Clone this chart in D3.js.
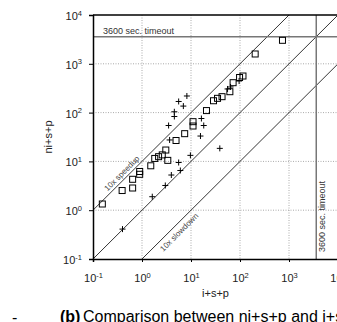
<!DOCTYPE html>
<html>
<head>
<meta charset="utf-8">
<script src="https://cdn.jsdelivr.net/npm/d3@7"></script>
<style>
  body { margin: 0; background: #fff; }
  svg text { font-family: "Liberation Sans", Arial, sans-serif; }
</style>
</head>
<body>
<script>
// Data ////////////////////////////////////////////////////////////////////

// "+" markers (i+s+p time, ni+s+p time)
const plusX = [0.40, 1.62, 2.99, 3.97, 6.06, 5.60, 9.72, 38.7, 3.66, 3.49,
  4.57, 4.57, 8.24, 5.60, 6.98, 15.6, 18.2, 16.3, 95.9, 64.2, 55.7];
const plusY = [0.41, 1.89, 3.21, 5.26, 6.51, 9.49, 13.3, 18.5, 27.5, 54.4,
  104, 83.2, 219, 169, 136, 33.1, 54.4, 75.7, 444, 335, 305];

// square markers
const squareX = [0.155, 0.393, 0.644, 0.644, 0.897, 0.897, 1.51, 1.82, 2.18,
  2.59, 3.36, 3.06, 4.95, 7.43, 11.0, 11.0, 20.7, 28.8, 34.8, 43.0, 62.1,
  72.3, 115, 98, 204, 736];
const squareY = [1.34, 2.53, 2.85, 4.30, 5.44, 6.21, 8.13, 11.5, 12.5, 13.6,
  10.5, 17.1, 26.8, 37.0, 65.2, 53.1, 110, 175, 196, 212, 268, 410, 562, 524,
  1589, 3030];

const decades = [0.1, 1, 10, 100, 1000, 10000];
const gridDecades = [1, 10, 100, 1000];
const exponents = ["-1", "0", "1", "2", "3", "4"];
const timeout = 3600;
const ratioLines = [10, 1, 0.1]; // y = k * x

// Layout //////////////////////////////////////////////////////////////////

const width = 337;
const height = 322;
const marginLeft = 93;
const marginTop = 15;
const plotW = 245;
const plotH = 244;

const svg = d3
  .select("body")
  .append("svg")
  .attr("width", width)
  .attr("height", height);

const g = svg
  .append("g")
  .attr("transform", `translate(${marginLeft}, ${marginTop})`);

const x = d3.scaleLog().domain([0.1, 1e4]).range([0, plotW]);
const y = d3.scaleLog().domain([0.1, 1e4]).range([plotH, 0]);

svg
  .append("clipPath")
  .attr("id", "plot-clip")
  .append("rect")
  .attr("width", plotW)
  .attr("height", plotH);

drawGrid(g);
drawRatioLines(g);
drawTimeout(g);
drawPoints(g);
drawAxes(g);
drawTitles(svg);

// Grid ////////////////////////////////////////////////////////////////////

function drawGrid(root) {
  const grid = root.append("g").attr("stroke", "#aaa").attr("stroke-dasharray", "1,1.5");
  grid
    .selectAll("line.v")
    .data(gridDecades)
    .join("line")
    .attr("class", "v")
    .attr("x1", (d) => x(d))
    .attr("x2", (d) => x(d))
    .attr("y1", 0)
    .attr("y2", plotH);
  grid
    .selectAll("line.h")
    .data(gridDecades)
    .join("line")
    .attr("class", "h")
    .attr("y1", (d) => y(d))
    .attr("y2", (d) => y(d))
    .attr("x1", 0)
    .attr("x2", plotW);
}

// Diagonals ///////////////////////////////////////////////////////////////

function drawRatioLines(root) {
  const lines = root.append("g").attr("clip-path", "url(#plot-clip)");
  lines
    .selectAll("line")
    .data(ratioLines)
    .join("line")
    .attr("x1", (k) => x(0.1 / Math.min(k, 1)))
    .attr("y1", (k) => y(0.1 * Math.max(k, 1)))
    .attr("x2", (k) => x(1e5))
    .attr("y2", (k) => y(1e5 * k))
    .attr("stroke", "#000")
    .attr("stroke-width", 0.8);

  root
    .append("text")
    .text("10x speedup")
    .attr("font-size", 8)
    .attr("fill", "#444")
    .attr("text-anchor", "middle")
    .attr("transform", `translate(${x(0.47)}, ${y(4.7)}) rotate(-45)`)
    .attr("dy", -3);

  root
    .append("text")
    .text("10x slowdown")
    .attr("font-size", 8)
    .attr("fill", "#444")
    .attr("text-anchor", "middle")
    .attr("transform", `translate(${x(4.5)}, ${y(0.45)}) rotate(-45)`)
    .attr("dy", 10);
}

// Timeout /////////////////////////////////////////////////////////////////

function drawTimeout(root) {
  root
    .append("line")
    .attr("x1", 0)
    .attr("x2", plotW)
    .attr("y1", y(timeout))
    .attr("y2", y(timeout))
    .attr("stroke", "#777")
    .attr("stroke-width", 1.5);
  root
    .append("line")
    .attr("x1", x(timeout))
    .attr("x2", x(timeout))
    .attr("y1", 0)
    .attr("y2", plotH)
    .attr("stroke", "#777")
    .attr("stroke-width", 1.5);

  root
    .append("text")
    .text("3600 sec. timeout")
    .attr("font-size", 9)
    .attr("fill", "#333")
    .attr("x", 10)
    .attr("y", y(timeout) - 2.5);

  root
    .append("text")
    .text("3600 sec. timeout")
    .attr("font-size", 9)
    .attr("fill", "#333")
    .attr("transform", `translate(${x(timeout) + 9}, ${plotH - 7}) rotate(-90)`);
}

// Points //////////////////////////////////////////////////////////////////

function drawPoints(root) {
  root
    .append("g")
    .selectAll("path")
    .data(plusX.map((d, i) => [d, plusY[i]]))
    .join("path")
    .attr("transform", (d) => `translate(${x(d[0])}, ${y(d[1])})`)
    .attr("d", "M-3,0H3M0,-3V3")
    .attr("stroke", "#000")
    .attr("stroke-width", 1);

  root
    .append("g")
    .selectAll("rect")
    .data(squareX.map((d, i) => [d, squareY[i]]))
    .join("rect")
    .attr("x", (d) => x(d[0]) - 3)
    .attr("y", (d) => y(d[1]) - 3)
    .attr("width", 6)
    .attr("height", 6)
    .attr("fill", "none")
    .attr("stroke", "#000")
    .attr("stroke-width", 1);
}

// Axes ////////////////////////////////////////////////////////////////////

function powerLabel(sel) {
  sel.each(function (d) {
    const i = decades.indexOf(d);
    const t = d3.select(this).text("").attr("fill", "#222").attr("font-size", 11);
    t.append("tspan").text("10");
    t.append("tspan").attr("dy", -4.5).attr("font-size", 7.5).text(exponents[i]);
  });
}

function drawAxes(root) {
  const left = root
    .append("g")
    .call(d3.axisLeft(y).tickValues(decades).tickSize(4).tickFormat(() => ""));
  left.selectAll(".tick text").attr("x", -11).attr("dy", null).attr("y", 4.5).call(powerLabel);

  const bottom = root
    .append("g")
    .attr("transform", `translate(0, ${plotH})`)
    .call(d3.axisBottom(x).tickValues(decades).tickSize(3).tickFormat(() => ""));
  bottom.selectAll(".tick text").attr("dy", null).attr("y", 23).call(powerLabel);

  root
    .append("line")
    .attr("x1", 0)
    .attr("x2", plotW)
    .attr("y1", 0)
    .attr("y2", 0)
    .attr("stroke", "#000")
    .attr("stroke-width", 1.3);

  root.selectAll(".domain").attr("stroke-width", 1.5);
}

// Titles //////////////////////////////////////////////////////////////////

function drawTitles(root) {
  root
    .append("text")
    .text("i+s+p")
    .attr("font-size", 11)
    .attr("fill", "#222")
    .attr("text-anchor", "middle")
    .attr("x", marginLeft + plotW / 2)
    .attr("y", 297);

  root
    .append("text")
    .text("ni+s+p")
    .attr("font-size", 11)
    .attr("fill", "#222")
    .attr("text-anchor", "middle")
    .attr("transform", `translate(52, ${marginTop + plotH / 2}) rotate(-90)`);

  root
    .append("text")
    .text("(b)")
    .attr("font-family", "'Liberation Serif', 'Times New Roman', serif")
    .attr("font-weight", "bold")
    .attr("font-size", 16)
    .attr("x", 60)
    .attr("y", 322);

  root
    .append("text")
    .text("Comparison between ni+s+p and i+s+p")
    .attr("font-family", "'Liberation Serif', 'Times New Roman', serif")
    .attr("font-size", 16)
    .attr("x", 83)
    .attr("y", 322);

  root
    .append("text")
    .text("-")
    .attr("font-family", "'Liberation Serif', 'Times New Roman', serif")
    .attr("font-size", 16)
    .attr("x", 12)
    .attr("y", 323);
}
</script>
</body>
</html>
